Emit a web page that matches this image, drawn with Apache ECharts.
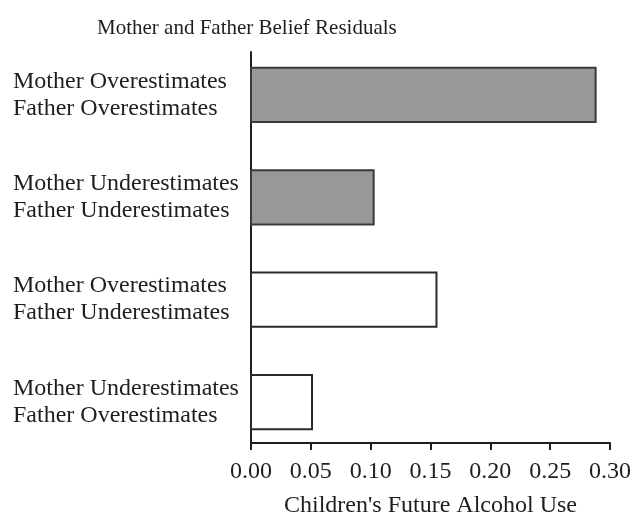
<!DOCTYPE html>
<html>
<head>
<meta charset="utf-8">
<script src="https://cdn.jsdelivr.net/npm/echarts@6/dist/echarts.min.js"></script>
<style>
  html, body { margin: 0; padding: 0; background: #fff; }
  #chart { width: 634px; height: 523px; }
</style>
</head>
<body>
<div id="chart"></div>
<script>
// belief residual groups, top to bottom
const categories = [
  'Mother Overestimates\nFather Overestimates',
  'Mother Underestimates\nFather Underestimates',
  'Mother Overestimates\nFather Underestimates',
  'Mother Underestimates\nFather Overestimates'
];
const values = [0.288, 0.1025, 0.155, 0.051];
// first two groups agree (grey), last two disagree (white)
const agreeIdx = [0, 1];
const disagreeIdx = [2, 3];

const font = 'Liberation Serif';
const ink = '#1e1e1e';

function barItem (params, api) {
  const row = api.value(1);
  const start = api.coord([0, row]);
  const end = api.coord([api.value(0), row]);
  const h = api.size([0, 0.53])[1];
  return {
    type: 'rect',
    shape: {x: start[0], y: start[1] - h / 2, width: end[0] - start[0], height: h},
    style: api.style()
  };
}

const chart = echarts.init(document.getElementById('chart'));
chart.setOption({
  backgroundColor: '#fff',
  animation: false,
  title: {
    text: 'Mother and Father Belief Residuals',
    left: 92,
    top: 13,
    textStyle: {fontFamily: font, fontSize: 21, fontWeight: 'normal', color: ink}
  },
  grid: {left: 251, right: 22, top: 52, bottom: 72, containLabel: false},
  xAxis: {
    type: 'value',
    min: 0,
    max: 0.3,
    interval: 0.05,
    name: "Children's Future Alcohol Use",
    nameLocation: 'middle',
    nameGap: 51,
    nameTextStyle: {fontFamily: font, fontSize: 24, color: ink},
    axisLine: {show: true, onZero: false, lineStyle: {color: ink, width: 2}},
    axisTick: {show: true, inside: false, length: 7, lineStyle: {color: ink, width: 2}},
    splitLine: {show: false},
    axisLabel: {
      fontFamily: font, fontSize: 24, color: ink, margin: 17,
      showMaxLabel: true, showMinLabel: true,
      formatter: v => v.toFixed(2)
    }
  },
  yAxis: {
    type: 'value',
    inverse: true,
    min: -0.42,
    max: 3.4,
    axisLine: {show: true, onZero: false, lineStyle: {color: ink, width: 2}},
    axisTick: {show: false},
    splitLine: {show: false},
    axisLabel: {
      customValues: categories.map((c, i) => i),
      formatter: v => categories[v] || '',
      align: 'left',
      margin: 238,
      padding: [0, 0, 3, 0],
      fontFamily: font, fontSize: 24, lineHeight: 27, color: ink
    }
  },
  series: [
    {
      type: 'custom',
      renderItem: barItem,
      encode: {x: 0, y: 1},
      itemStyle: {color: '#989898', borderColor: '#3a3a3a', borderWidth: 2},
      data: agreeIdx.map(i => [values[i], i])
    },
    {
      type: 'custom',
      renderItem: barItem,
      encode: {x: 0, y: 1},
      itemStyle: {color: '#fff', borderColor: '#2a2a2a', borderWidth: 2},
      data: disagreeIdx.map(i => [values[i], i])
    }
  ]
});
</script>
</body>
</html>
